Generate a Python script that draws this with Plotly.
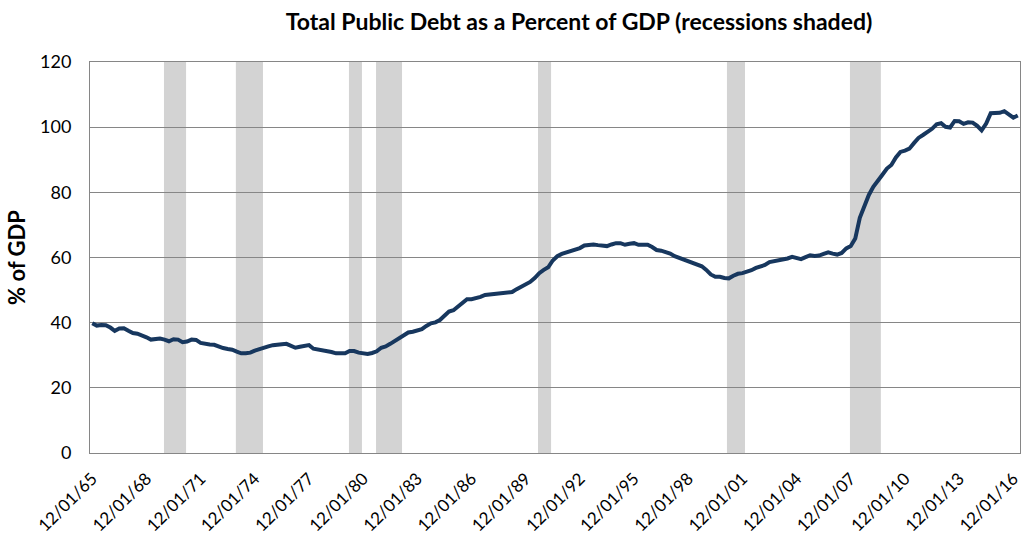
import plotly.graph_objects as go
import pandas as pd

# Quarterly total public debt, % of GDP (first point dated 12/01/65)
start_date = "1965-12-01"
debt_pct = [
    39.8, 39.1, 39.3, 39.2, 38.5, 37.5, 38.2, 38.3, 37.5, 36.8, 36.6, 36.2,
    35.5, 34.8, 35.1, 35.1, 34.8, 34.3, 34.9, 34.8, 34.0, 34.2, 34.8, 34.7,
    33.8, 33.4, 33.3, 33.2, 32.6, 32.2, 31.9, 31.7, 31.1, 30.6, 30.6, 30.8,
    31.4, 31.9, 32.3, 32.7, 33.1, 33.4, 33.4, 33.5, 33.0, 32.3, 32.6, 33.0,
    33.1, 32.0, 31.8, 31.6, 31.4, 31.0, 30.6, 30.6, 30.6, 31.3, 31.3, 30.8,
    30.5, 30.4, 30.7, 31.2, 32.3, 32.7, 33.5, 34.3, 35.2, 36.0, 37.0, 37.2,
    37.5, 38.0, 39.0, 39.8, 40.1, 40.8, 42.1, 43.4, 43.8, 44.8, 45.9, 47.2,
    47.2, 47.4, 47.9, 48.5, 48.7, 48.7, 48.9, 49.2, 49.3, 49.4, 50.3, 51.1,
    51.7, 52.5, 53.7, 55.2, 56.2, 57.0, 59.1, 60.4, 61.1, 61.5, 61.8, 62.2,
    62.9, 63.7, 63.9, 64.0, 63.8, 63.5, 63.5, 64.0, 64.4, 64.4, 63.9, 64.2,
    64.4, 63.9, 63.9, 63.9, 63.2, 62.3, 62.1, 61.8, 61.2, 60.4, 59.9, 59.6,
    59.0, 58.4, 57.9, 57.3, 56.2, 54.8, 54.1, 54.1, 53.7, 53.6, 54.4, 55.0,
    55.2, 55.6, 56.1, 56.8, 57.2, 57.7, 58.6, 58.8, 59.0, 59.3, 59.7, 60.2,
    60.0, 59.5, 60.1, 60.7, 60.5, 60.6, 61.1, 61.6, 61.2, 60.9, 61.4, 62.8,
    63.5, 65.8, 72.2, 76.0, 79.2, 81.7, 83.4, 85.4, 87.3, 88.4, 90.7, 92.4,
    92.8, 93.4, 95.1, 96.7, 97.6, 98.4, 99.5, 100.9, 101.2, 100.1, 99.9, 101.9,
    101.8, 101.0, 101.5, 101.4, 100.4, 99.0, 101.1, 104.3, 104.3, 104.4, 104.9, 103.9,
    102.9, 103.6,
]
dates = pd.date_range(start_date, periods=len(debt_pct), freq="3MS")

# Recession shading periods (as drawn in the reference)
rec_start = ["1969-11-20", "1973-11-13", "1980-02-17", "1981-08-18",
             "1990-08-07", "2001-01-22", "2007-11-15"]
rec_end = ["1971-02-10", "1975-05-15", "1980-11-06", "1983-01-26",
           "1991-04-28", "2002-01-22", "2009-08-01"]

tick_dates = pd.date_range("1965-12-01", "2016-12-01", freq="36MS")
tick_text = [d.strftime("%m/%d/%y") for d in tick_dates]

y_ticks = [0, 20, 40, 60, 80, 100, 120]

FONT = "Lato"
GRID = "#868686"

fig = go.Figure()
fig.add_trace(go.Scatter(
    x=dates, y=debt_pct, mode="lines",
    line=dict(color="#17375E", width=4),
    hoverinfo="x+y", showlegend=False,
))

for s, e in zip(rec_start, rec_end):
    fig.add_shape(type="rect", xref="x", yref="paper", x0=s, x1=e, y0=0, y1=1,
                  fillcolor="#D3D3D3", line=dict(width=0), layer="below")

fig.update_layout(
    width=1021, height=535,
    margin=dict(l=90, r=1, t=62, b=82, autoexpand=False),
    paper_bgcolor="white", plot_bgcolor="white",
    font=dict(family=FONT, color="#000000"),
    title=dict(
        text="<b>Total Public Debt as a Percent of GDP (recessions shaded)</b>",
        x=579 / 1021, xanchor="center", y=1 - 22 / 535, yanchor="middle",
        font=dict(family=FONT, size=23, color="#000000"),
    ),
    xaxis=dict(
        type="date", automargin=False,
        range=["1965-10-16", "2017-04-15"],
        tickvals=tick_dates, ticktext=tick_text, tickangle=-45,
        tickfont=dict(family=FONT, size=17),
        ticklabeloverflow="allow",
        showgrid=False, zeroline=False,
        showline=True, linecolor=GRID, linewidth=1, mirror=True,
        ticks="", ticklabelstandoff=8,
    ),
    yaxis=dict(
        range=[0, 120], tickvals=y_ticks, automargin=False,
        tickfont=dict(family=FONT, size=18),
        showgrid=True, gridcolor=GRID, gridwidth=1, zeroline=False,
        showline=True, linecolor=GRID, linewidth=1, mirror=True,
        ticks="", ticklabelstandoff=14,
        title=dict(text="<b>% of GDP</b>", font=dict(family=FONT, size=22), standoff=8),
    ),
)

fig.write_html(
    "out.html",
    config={"displayModeBar": False},
    post_script="document.body.style.margin='0';document.body.style.padding='0';",
)
